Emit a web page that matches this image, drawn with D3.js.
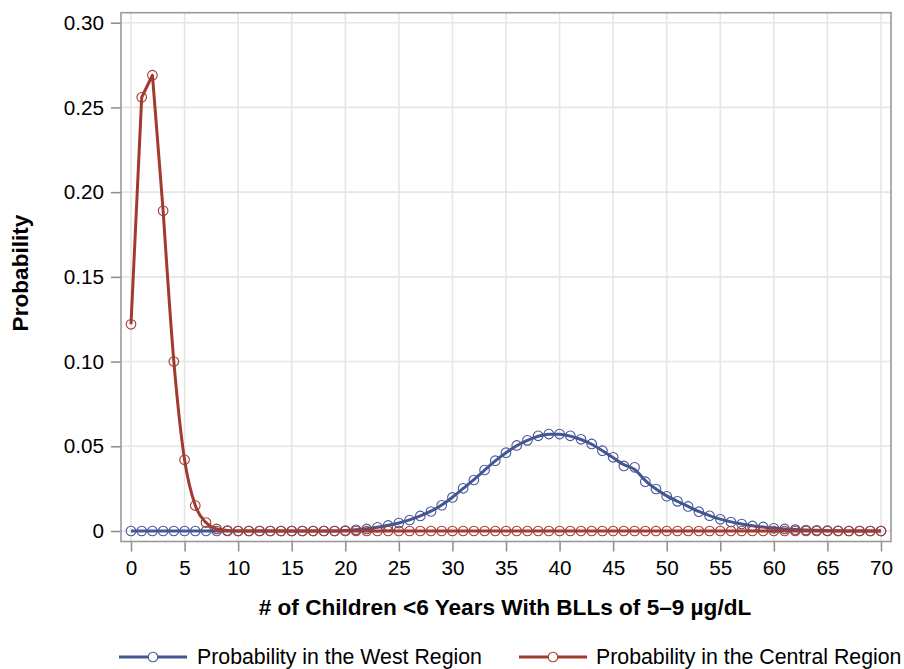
<!DOCTYPE html>
<html>
<head>
<meta charset="utf-8">
<script src="https://cdn.jsdelivr.net/npm/d3@7/dist/d3.min.js"></script>
<style>
  html, body { margin: 0; padding: 0; background: #fff; }
  svg { display: block; font-family: "Liberation Sans", Arial, sans-serif; }
</style>
</head>
<body>
<svg id="chart" width="904" height="669"></svg>
<script>
// ---- data ----
const xValues = d3.range(0, 71);
const westProb = [
  0,0,0,0,0,0,0,0,0,0,
  0,0,0,0,0,0,0,0,0,0,
  0.0003,0.0007,0.0012,0.0022,0.0033,0.0047,0.0065,0.0089,0.0115,0.0152,
  0.0198,0.0252,0.0301,0.0360,0.0415,0.0462,0.0505,0.0535,0.0562,0.0572,
  0.0572,0.0562,0.0541,0.0514,0.0474,0.0435,0.0384,0.0376,0.0291,0.0248,
  0.0205,0.0175,0.0145,0.0114,0.0090,0.0069,0.0053,0.0041,0.0030,0.0024,
  0.0016,0.0012,0.0008,0.0006,0.0004,0.0002,0.0001,0,0,0,
  0
];
const centralProb = [
  0.122,0.256,0.269,0.189,0.100,0.042,0.015,0.005,0.0012,0.0003,
  0,0,0,0,0,0,0,0,0,0,
  0,0,0,0,0,0,0,0,0,0,
  0,0,0,0,0,0,0,0,0,0,
  0,0,0,0,0,0,0,0,0,0,
  0,0,0,0,0,0,0,0,0,0,
  0,0,0,0,0,0,0,0,0,0,
  0
];
const xTicks = d3.range(0, 71, 5);
const yTicks = [0, 0.05, 0.10, 0.15, 0.20, 0.25, 0.30];
const yTickLabels = ["0", "0.05", "0.10", "0.15", "0.20", "0.25", "0.30"];
const seriesNames = ["Probability in the West Region", "Probability in the Central Region"];
const xTitle = "# of Children <6 Years With BLLs of 5\u20139 \u00b5g/dL";
const yTitle = "Probability";

// ---- layout ----
const frame = { left: 121, right: 891, top: 12.7, bottom: 541.5 };
const colors = ["#445694", "#A23A2E"];

const svg = d3.select("#chart");
const x = d3.scaleLinear().domain([0, 70]).range([131, 881]);
const y = d3.scaleLinear().domain([0, 0.30]).range([531, 22.7]);

// grid
const grid = svg.append("g");
grid.selectAll(".vg").data(xTicks).join("line")
  .attr("x1", d => x(d)).attr("x2", d => x(d))
  .attr("y1", frame.top).attr("y2", frame.bottom)
  .attr("stroke", "#e6e6e6").attr("stroke-width", 1.6);
grid.selectAll(".hg").data(yTicks).join("line")
  .attr("x1", frame.left).attr("x2", frame.right)
  .attr("y1", d => y(d)).attr("y2", d => y(d))
  .attr("stroke", "#e6e6e6").attr("stroke-width", 1.6);

// axes
const yAxis = svg.append("g").attr("transform", `translate(${frame.left},0)`)
  .call(d3.axisLeft(y).tickValues(yTicks).tickFormat((d, i) => yTickLabels[i])
        .tickSize(10).tickSizeOuter(0).tickPadding(7));
const xAxis = svg.append("g").attr("transform", `translate(0,${frame.bottom})`)
  .call(d3.axisBottom(x).tickValues(xTicks).tickFormat(d3.format("d"))
        .tickSize(10).tickSizeOuter(0).tickPadding(8.5));
[xAxis, yAxis].forEach(a => {
  a.select(".domain").remove();
  a.selectAll(".tick line").attr("stroke", "#8c8c8c").attr("stroke-width", 1.5);
  a.selectAll(".tick text").attr("fill", "#000").style("font-size", "20.7px")
    .style("font-family", '"Liberation Sans", Arial, sans-serif');
});

// frame
svg.append("rect")
  .attr("x", frame.left).attr("y", frame.top)
  .attr("width", frame.right - frame.left).attr("height", frame.bottom - frame.top)
  .attr("fill", "none").attr("stroke", "#9a9a9a").attr("stroke-width", 1.6);

// series
const seriesData = [westProb, centralProb];
seriesData.forEach((vals, si) => {
  const pts = xValues.map((xv, i) => [xv, vals[i]]);
  if (si === 0) {
    const line = d3.line().x(d => x(d[0])).y(d => y(d[1])).curve(d3.curveBasis);
    svg.append("path").datum(pts).attr("d", line).attr("fill", "none")
      .attr("stroke", colors[si]).attr("stroke-width", 3).attr("stroke-linejoin", "round");
  } else {
    // sharp segments around the peak, smooth tail
    const head = pts.slice(0, 4);
    const tail = pts.slice(3);
    const lin = d3.line().x(d => x(d[0])).y(d => y(d[1])).curve(d3.curveLinear);
    const smo = d3.line().x(d => x(d[0])).y(d => y(d[1])).curve(d3.curveMonotoneX);
    svg.append("path").datum(head).attr("d", lin).attr("fill", "none")
      .attr("stroke", colors[si]).attr("stroke-width", 3).attr("stroke-linejoin", "round");
    svg.append("path").datum(tail).attr("d", smo).attr("fill", "none")
      .attr("stroke", colors[si]).attr("stroke-width", 3).attr("stroke-linejoin", "round");
  }
  svg.append("g").selectAll("circle").data(pts).join("circle")
    .attr("cx", d => x(d[0])).attr("cy", d => y(d[1])).attr("r", 4.8)
    .attr("fill", "none").attr("stroke", colors[si]).attr("stroke-width", 1.1);
});

// titles
svg.append("text")
  .attr("x", 505).attr("y", 615).attr("text-anchor", "middle")
  .style("font-size", "22.6px").style("font-weight", "bold").text(xTitle);
svg.append("text")
  .attr("transform", "translate(28,273) rotate(-90)").attr("text-anchor", "middle")
  .style("font-size", "22.6px").style("font-weight", "bold").text(yTitle);

// legend
const legendItems = [
  { lx1: 119, lx2: 187, cx: 153, tx: 197 },
  { lx1: 519, lx2: 587, cx: 553, tx: 596 }
];
const ly = 657;
legendItems.forEach((it, i) => {
  svg.append("line").attr("x1", it.lx1).attr("x2", it.lx2).attr("y1", ly).attr("y2", ly)
    .attr("stroke", colors[i]).attr("stroke-width", 3);
  svg.append("circle").attr("cx", it.cx).attr("cy", ly).attr("r", 4.8)
    .attr("fill", "#fff").attr("stroke", colors[i]).attr("stroke-width", 1.1);
  svg.append("text").attr("x", it.tx).attr("y", ly).attr("dy", "0.35em")
    .style("font-size", "21.3px").attr("fill", "#000").text(seriesNames[i]);
});
</script>
</body>
</html>
